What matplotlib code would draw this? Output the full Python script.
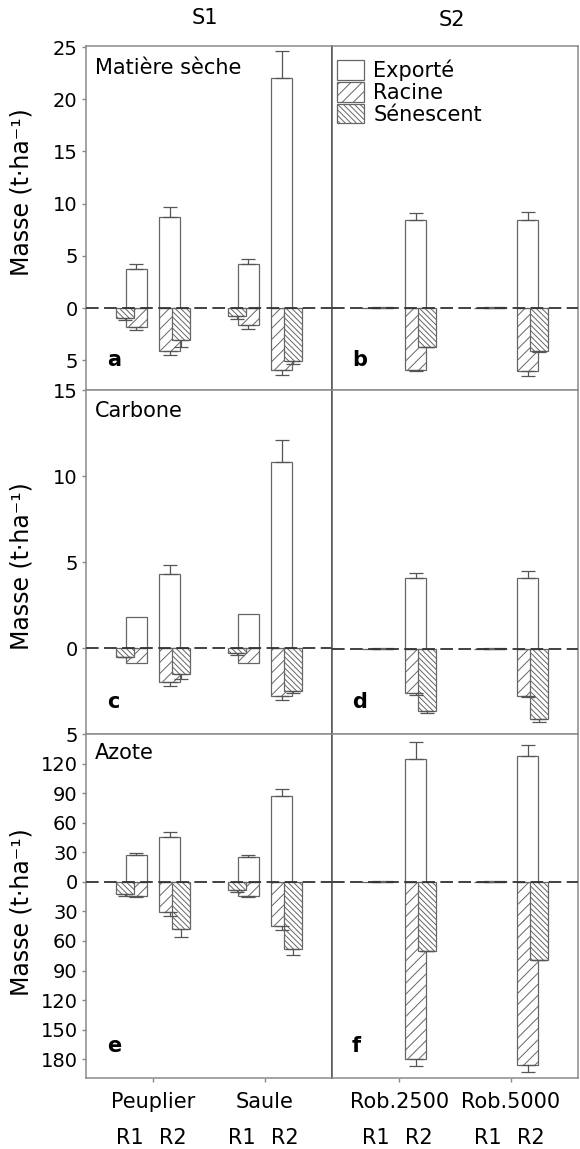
import matplotlib.pyplot as plt
import numpy as np

plt.rcParams['font.family'] = ['DejaVu Sans']
plt.rcParams['hatch.color'] = '#555555'
plt.rcParams['hatch.linewidth'] = 0.7

columns = ['S1', 'S2']
groups = ['Peuplier', 'Saule', 'Rob.2500', 'Rob.5000']
rotations = ['R1', 'R2']
variables = ['Matière sèche', 'Carbone', 'Azote']
panel_letters = ['a', 'b', 'c', 'd', 'e', 'f']
legend_labels = ['Exporté', 'Racine', 'Sénescent']

# ordre : Peuplier R1, Peuplier R2, Saule R1, Saule R2,
#         Rob.2500 R1, Rob.2500 R2, Rob.5000 R1, Rob.5000 R2
ms_exporte = [3.7, 8.7, 4.2, 22.0, 0.1, 8.4, 0.1, 8.4]
ms_exporte_err = [0.5, 1.0, 0.5, 2.6, 0, 0.7, 0, 0.8]
ms_racine = [1.8, 4.1, 1.6, 5.9, 0, 5.9, 0, 6.0]
ms_racine_err = [0.35, 0.4, 0.4, 0.55, 0, 0.1, 0, 0.5]
ms_senescent = [1.0, 3.1, 0.8, 5.1, 0, 3.7, 0, 4.1]
ms_senescent_err = [0.1, 0.6, 0.25, 0.3, 0, 0.05, 0, 0.1]

c_exporte = [1.8, 4.3, 2.0, 10.8, 0.06, 4.1, 0.06, 4.1]
c_exporte_err = [0, 0.5, 0, 1.3, 0, 0.3, 0, 0.4]
c_racine = [0.85, 2.0, 0.85, 2.8, 0, 2.6, 0, 2.75]
c_racine_err = [0, 0.2, 0, 0.25, 0, 0.08, 0, 0.05]
c_senescent = [0.5, 1.5, 0.3, 2.5, 0, 3.6, 0, 4.1]
c_senescent_err = [0.05, 0.3, 0.1, 0.13, 0, 0.13, 0, 0.14]

n_exporte = [27, 46, 25, 87, 0.8, 125, 0.8, 128]
n_exporte_err = [2.7, 4.7, 2.7, 7, 0, 16.5, 0, 11]
n_racine = [14.5, 31, 14.5, 45, 0, 180, 0, 186]
n_racine_err = [0.5, 4, 0.5, 3.7, 0, 7, 0, 7]
n_senescent = [12, 48, 8.4, 68, 0, 70, 0, 79]
n_senescent_err = [2.4, 8, 1.7, 6, 0, 0.5, 0, 0.7]

rows = [
    (ms_exporte, ms_exporte_err, ms_racine, ms_racine_err, ms_senescent, ms_senescent_err),
    (c_exporte, c_exporte_err, c_racine, c_racine_err, c_senescent, c_senescent_err),
    (n_exporte, n_exporte_err, n_racine, n_racine_err, n_senescent, n_senescent_err),
]
ylims = [(-7.85, 25.1), (-4.95, 15), (-199, 150)]
yticks = [[-5, 0, 5, 10, 15, 20, 25],
          [-5, 0, 5, 10, 15],
          [-180, -150, -120, -90, -60, -30, 0, 30, 60, 90, 120]]

W, H = 580, 1149
fig = plt.figure(figsize=(W / 100, H / 100), dpi=100)

x_edges = [86, 332, 578]
y_edges = [46, 390, 734, 1078]

bar_w = 0.19
sen_w = 0.16
r_off = [-0.15, 0.15]
s_off = [-0.25, 0.25]
edge = '#666666'
err_kw = dict(fmt='none', ecolor='#555555', elinewidth=0.9, capsize=5, capthick=0.9, zorder=4)

handles = None
for row in range(3):
    exp, exp_e, rac, rac_e, sen, sen_e = [np.array(v, dtype=float) for v in rows[row]]
    for col in range(2):
        left = x_edges[col] / W
        width = (x_edges[col + 1] - x_edges[col]) / W
        bottom = 1 - y_edges[row + 1] / H
        height = (y_edges[row + 1] - y_edges[row]) / H
        ax = fig.add_axes([left, bottom, width, height])

        sl = slice(col * 4, col * 4 + 4)
        pos = np.array([g + o for g in (1, 2) for o in r_off])
        spos = np.array([g + o for g in (1, 2) for o in s_off])

        b_rac = ax.bar(pos, -rac[sl], bar_w, color='white', edgecolor=edge,
                       linewidth=0.9, hatch='///', zorder=2)
        b_exp = ax.bar(pos, exp[sl], bar_w, color='white', edgecolor=edge,
                       linewidth=0.9, zorder=2)
        b_sen = ax.bar(spos, -sen[sl], sen_w, color='white', edgecolor=edge,
                       linewidth=0.9, hatch='\\\\\\\\\\\\', zorder=3)
        if handles is None:
            handles = [b_exp, b_rac, b_sen]

        # barres d'erreur (vers l'extérieur uniquement)
        for p, v, e, sign in [(pos, exp[sl], exp_e[sl], 1),
                              (pos, rac[sl], rac_e[sl], -1),
                              (spos, sen[sl], sen_e[sl], -1)]:
            m = e > 0
            if not m.any():
                continue
            z = np.zeros(m.sum())
            yerr = [z, e[m]] if sign > 0 else [e[m], z]
            ax.errorbar(p[m], sign * v[m], yerr=yerr, **err_kw)

        ax.axhline(0, color='#333333', lw=1.3, ls=(0, (7, 3)), zorder=5)

        ax.set_xlim(0.4, 2.6)
        ax.set_ylim(*ylims[row])
        for s in ax.spines.values():
            s.set_color('#8a8a8a')
            s.set_linewidth(1.1)
        ax.spines['right' if col == 0 else 'left'].set_color('#555555')

        if col == 0:
            ax.set_yticks(yticks[row])
            ax.set_yticklabels([str(abs(t)) for t in yticks[row]])
            ax.tick_params(axis='y', direction='out', length=3, width=1,
                           color='#8a8a8a', labelsize=14, pad=3)
        else:
            ax.set_yticks([])

        if row == 2:
            ax.set_xticks([1, 2])
            ax.set_xticklabels(groups[col * 2:col * 2 + 2])
            ax.tick_params(axis='x', direction='out', length=3, width=1,
                           color='#8a8a8a', labelsize=15, pad=7)
            for g in (1, 2):
                ax.text(g - 0.21, -0.145, rotations[0], transform=ax.get_xaxis_transform(),
                        ha='center', va='top', fontsize=15)
                ax.text(g + 0.18, -0.145, rotations[1], transform=ax.get_xaxis_transform(),
                        ha='center', va='top', fontsize=15)
        else:
            ax.set_xticks([])

        if col == 0:
            ax.text(0.037, [0.936, 0.939, 0.945][row], variables[row],
                    transform=ax.transAxes, ha='left', va='center', fontsize=15)
            lx = 0.085
        else:
            lx = 0.081
        ax.text(lx, [0.087, 0.094, 0.092][row], panel_letters[row * 2 + col],
                transform=ax.transAxes, ha='left', va='center', fontsize=15,
                fontweight='bold')

        if row == 0 and col == 1:
            ax.legend(handles, legend_labels, loc='upper left',
                      bbox_to_anchor=(0.02, 0.96), frameon=False, fontsize=15,
                      handlelength=1.3, handleheight=1.05, handletextpad=0.45,
                      labelspacing=0.05, borderpad=0, borderaxespad=0)

fig.text(205 / W, 1 - 18 / H, columns[0], ha='center', va='center', fontsize=15)
fig.text(452 / W, 1 - 20 / H, columns[1], ha='center', va='center', fontsize=15)
for yc in (192, 566, 912):
    fig.text(22 / W, 1 - yc / H, 'Masse (t·ha⁻¹)', rotation=90,
             ha='center', va='center', fontsize=17)

fig.savefig('out.png', dpi=100)
